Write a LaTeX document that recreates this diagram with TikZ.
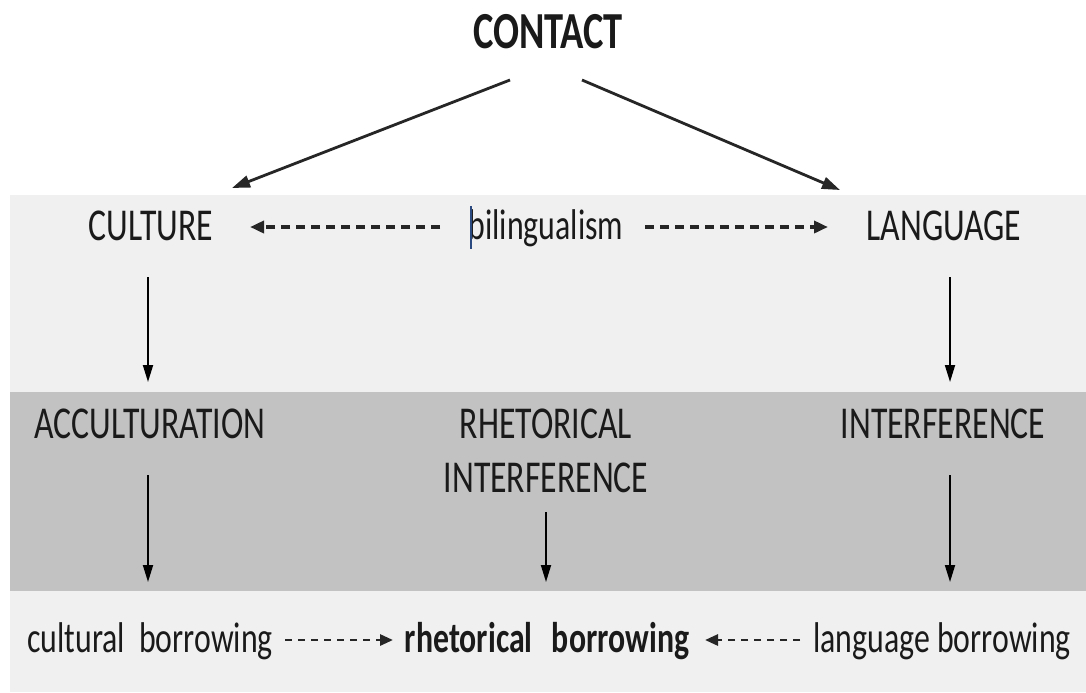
\documentclass[tikz,border=0pt]{standalone}
\usepackage{fontspec}
\setmainfont[FakeStretch=0.74]{Carlito}
\usetikzlibrary{arrows.meta}
\definecolor{bandlight}{HTML}{F0F0F0}
\definecolor{banddark}{HTML}{C2C2C2}
\definecolor{txt}{HTML}{1A1A1A}
\definecolor{cursor}{HTML}{2A4A80}
\begin{document}
\begin{tikzpicture}[x=0.5pt,y=-0.5pt,
  lbl/.style={font=\fontsize{21.5}{27}\selectfont, text=txt, inner sep=0pt, anchor=base},
  caps/.style={lbl, font=\fontsize{22.8}{27}\selectfont},
  lblb/.style={lbl, font=\fontsize{21.5}{27}\bfseries\selectfont},
  head/.style={lbl, font=\fontsize{26}{28}\bfseries\selectfont},
  arr/.style={-{Triangle[length=8.5pt,width=5pt]}, line width=0.9pt, draw=black},
  diagarr/.style={-{Triangle[length=9pt,width=6pt]}, line width=1.4pt, draw=black!85},
  dasharr/.style={-{Triangle[length=7pt,width=6pt]}, line width=1.8pt, dash pattern=on 4.5pt off 3pt, draw=black!85},
  dasharrb/.style={-{Triangle[length=6.5pt,width=5.5pt]}, line width=1.4pt, dash pattern=on 3.5pt off 3pt, draw=black!85}
]
\useasboundingbox (0,0) rectangle (1086,692);
\fill[white] (0,0) rectangle (1086,692);
\fill[bandlight] (10,195) rectangle (1086,392);
\fill[banddark] (10,392) rectangle (1086,591);
\fill[bandlight] (10,591) rectangle (1086,692);

\node[head] (contact) at (548,48) {CONTACT};
\node[caps] (culture) at (151,240) {CULTURE};
\node[lbl] (biling) at (546,239) {bilingualism};
\node[caps] (language) at (944,240) {LANGUAGE};
\node[caps] (accult) at (150,438) {ACCULTURATION};
\node[caps, align=center] (rhet) at (546,492) {RHETORICAL\\INTERFERENCE};
\node[caps] (interf) at (943,438) {INTERFERENCE};
\node[lbl] (cultb) at (150,652) {cultural\hspace{0.33em}borrowing};
\node[lblb] (rhetb) at (547,652) {rhetorical\hspace{0.45em}borrowing};
\node[lbl] (langb) at (942,652) {language borrowing};

\draw[line width=1.2pt, cursor] (471,206) -- (471,249);

\coordinate (a1s) at (510,80);  \coordinate (a1e) at (232,188);
\coordinate (a2s) at (582,80);  \coordinate (a2e) at (840,190);
\coordinate (d1s) at (440,227); \coordinate (d1e) at (250,227);
\coordinate (d2s) at (645,227); \coordinate (d2e) at (828,227);
\coordinate (v1s) at (148,277); \coordinate (v1e) at (148,382);
\coordinate (v2s) at (950,277); \coordinate (v2e) at (950,382);
\coordinate (v3s) at (148,475); \coordinate (v3e) at (148,582);
\coordinate (v4s) at (546,512); \coordinate (v4e) at (546,582);
\coordinate (v5s) at (950,475); \coordinate (v5e) at (950,582);
\coordinate (b1s) at (285,640); \coordinate (b1e) at (393,640);
\coordinate (b2s) at (800,640); \coordinate (b2e) at (705,640);

\draw[diagarr] (a1s) -- (a1e);
\draw[diagarr] (a2s) -- (a2e);
\draw[dasharr] (d1s) -- (d1e);
\draw[dasharr] (d2s) -- (d2e);
\draw[arr] (v1s) -- (v1e);
\draw[arr] (v2s) -- (v2e);
\draw[arr] (v3s) -- (v3e);
\draw[arr] (v4s) -- (v4e);
\draw[arr] (v5s) -- (v5e);
\draw[dasharrb] (b1s) -- (b1e);
\draw[dasharrb] (b2s) -- (b2e);
\end{tikzpicture}
\end{document}
